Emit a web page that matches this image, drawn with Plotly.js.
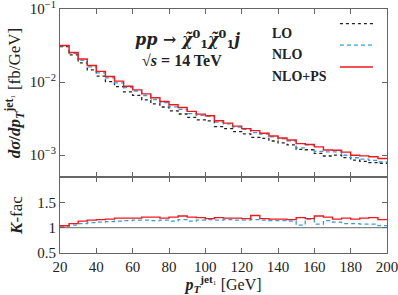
<!DOCTYPE html>
<html><head><meta charset="utf-8">
<script src="https://cdn.plot.ly/plotly-3.0.1.min.js"></script>
<style>body{margin:0;background:#fff}#c{width:398px;height:295px}</style>
</head><body><div id="c"></div>
<script>
// bin edges 20..200 GeV in 5 GeV steps
const binEdges = [20,25,30,35,40,45,50,55,60,65,70,75,80,85,90,95,100,105,110,115,120,125,130,135,140,145,150,155,160,165,170,175,180,185,190,195,200];
// NLO+PS differential cross section [fb/GeV] per bin
const nlops = [0.0317,0.0254,0.0207,0.0169,0.0140,0.0119,0.0103,0.00877,0.00782,0.0069,0.0061,0.00543,0.0049,0.0045,0.00397,0.00365,0.00347,0.00296,0.00275,0.0025,0.00231,0.00217,0.0020,0.00183,0.00172,0.00161,0.00144,0.0014,0.0013,0.00118,0.00117,0.0011,0.0010,0.00098,0.00095,0.0009];
// K-factors
const kNlops = [1.04,1.08,1.13,1.15,1.16,1.17,1.19,1.19,1.19,1.21,1.21,1.19,1.21,1.23,1.21,1.20,1.18,1.20,1.19,1.19,1.18,1.24,1.18,1.17,1.17,1.16,1.20,1.18,1.23,1.21,1.17,1.19,1.17,1.19,1.20,1.16];
const kNlo = [1.03,1.05,1.08,1.10,1.11,1.12,1.13,1.14,1.15,1.15,1.14,1.15,1.13,1.16,1.13,1.15,1.16,1.15,1.16,1.15,1.15,1.16,1.15,1.14,1.14,1.13,1.05,1.17,1.07,1.14,1.11,1.08,1.08,1.07,1.07,1.04];
const seriesNames = ['LO','NLO','NLO+PS'];
const xTickVals = [20,40,60,80,100,120,140,160,180,200];
const yMajorVals = [0.001,0.01,0.1];
const yMajorText = ['10<sup>−3</sup>','10<sup>−2</sup>','10<sup>−1</sup>'];
const yMinorVals = [0.0006,0.0007,0.0008,0.0009,0.002,0.003,0.004,0.005,0.006,0.007,0.008,0.009,0.02,0.03,0.04,0.05,0.06,0.07,0.08,0.09];
const kTickVals = [0.5,1,1.5];
const kTickText = ['0.5','1','1.5'];

const lo = nlops.map((v,i)=>v/kNlops[i]);
const nlo = lo.map((v,i)=>v*kNlo[i]);
function step(arr){ return arr.concat([arr[arr.length-1]]); }

const cRed = '#f0191e', cBlue = '#3b9ad8', cBlack = '#222';
const dashB = '4px,3px';
const F = 'Liberation Serif, DejaVu Serif, serif';
const traces = [
  {x:binEdges, y:step(lo), xaxis:'x', yaxis:'y', mode:'lines', line:{shape:'hv', color:cBlack, dash:'dot', width:1.3}, name:seriesNames[0], showlegend:false},
  {x:binEdges, y:step(nlo), xaxis:'x', yaxis:'y', mode:'lines', line:{shape:'hv', color:cBlue, dash:dashB, width:1.3}, name:seriesNames[1], showlegend:false},
  {x:binEdges, y:step(nlops), xaxis:'x', yaxis:'y', mode:'lines', line:{shape:'hv', color:cRed, width:1.4}, name:seriesNames[2], showlegend:false},
  {x:binEdges, y:step(kNlo), xaxis:'x2', yaxis:'y2', mode:'lines', line:{shape:'hv', color:cBlue, dash:dashB, width:1.3}, showlegend:false},
  {x:binEdges, y:step(kNlops), xaxis:'x2', yaxis:'y2', mode:'lines', line:{shape:'hv', color:cRed, width:1.4}, showlegend:false}
];
const ax = {showline:true, linecolor:'#666', linewidth:1, mirror:'ticks', ticks:'inside', ticklen:5, tickcolor:'#666', showgrid:false, zeroline:false, ticklabeloverflow:'allow', tickfont:{family:F, size:15, color:'#222'}};
const split = 0.311;
const yr = [-3.3, -1];
const layout = {
  width:398, height:295, margin:{l:60, r:11, t:9, b:42}, paper_bgcolor:'#fff', plot_bgcolor:'#fff',
  font:{family:F, color:'#222'},
  xaxis:Object.assign({}, ax, {range:[20,200], domain:[0,1], anchor:'y', showticklabels:false, tickvals:xTickVals}),
  yaxis:Object.assign({}, ax, {type:'log', range:yr, domain:[split,1], anchor:'x',
     tickvals:yMajorVals, ticktext:yMajorText,
     title:{text:'<b><i>dσ</i>/<i>dp</i></b><sub><b><i>T</i></b></sub><sup><b>jet</b>₁</sup> [fb/GeV]', font:{family:F, size:17}, standoff:4}}),
  yaxis3:{type:'log', range:yr, domain:[split,1], overlaying:'y', anchor:'x', side:'left', showline:false, mirror:'ticks', ticks:'inside', ticklen:3, tickcolor:'#666', showgrid:false, zeroline:false, showticklabels:false, tickvals:yMinorVals},
  xaxis2:Object.assign({}, ax, {range:[20,200], domain:[0,1], anchor:'y2', tickvals:xTickVals,
     title:{text:'<b><i>p</i></b><sub><b><i>T</i></b></sub><sup><b>jet</b>₁</sup> [GeV]', font:{family:F, size:16}, standoff:6}}),
  yaxis2:Object.assign({}, ax, {range:[0.5,2], domain:[0,split], anchor:'x2', tickvals:kTickVals, ticktext:kTickText,
     title:{text:'<b><i>K</i></b>-fac', font:{family:F, size:17}, standoff:10}}),
  shapes:[
    {type:'line', xref:'x2', yref:'y2', x0:20, x1:200, y0:1, y1:1, line:{color:'#666', width:1}},
    {type:'line', xref:'paper', yref:'paper', x0:0.856, x1:0.957, y0:0.94, y1:0.94, line:{color:cBlack, dash:'dot', width:1.3}},
    {type:'line', xref:'paper', yref:'paper', x0:0.856, x1:0.957, y0:0.852, y1:0.852, line:{color:cBlue, dash:dashB, width:1.3}},
    {type:'line', xref:'paper', yref:'paper', x0:0.856, x1:0.957, y0:0.762, y1:0.762, line:{color:cRed, width:1.4}}
  ],
  annotations:[
    {xref:'paper', yref:'paper', x:0.39, y:0.934, text:'<b><i>pp</i> → <i>χ̃</i><sup>0</sup><sub>1</sub><i>χ̃</i><sup>0</sup><sub>1</sub><i>j</i></b>', showarrow:false, font:{family:'DejaVu Serif, serif', size:16}},
    {xref:'paper', yref:'paper', x:0.373, y:0.832, text:'<b>√<i>s</i> = 14 TeV</b>', showarrow:false, font:{family:F, size:16}},
    {xref:'paper', yref:'paper', x:0.642, y:0.94, xanchor:'left', text:'<b>LO</b>', showarrow:false, font:{family:F, size:14}},
    {xref:'paper', yref:'paper', x:0.642, y:0.852, xanchor:'left', text:'<b>NLO</b>', showarrow:false, font:{family:F, size:14}},
    {xref:'paper', yref:'paper', x:0.642, y:0.762, xanchor:'left', text:'<b>NLO+PS</b>', showarrow:false, font:{family:F, size:14}}
  ]
};
Plotly.newPlot('c', traces, layout, {staticPlot:true, displayModeBar:false});
</script></body></html>
